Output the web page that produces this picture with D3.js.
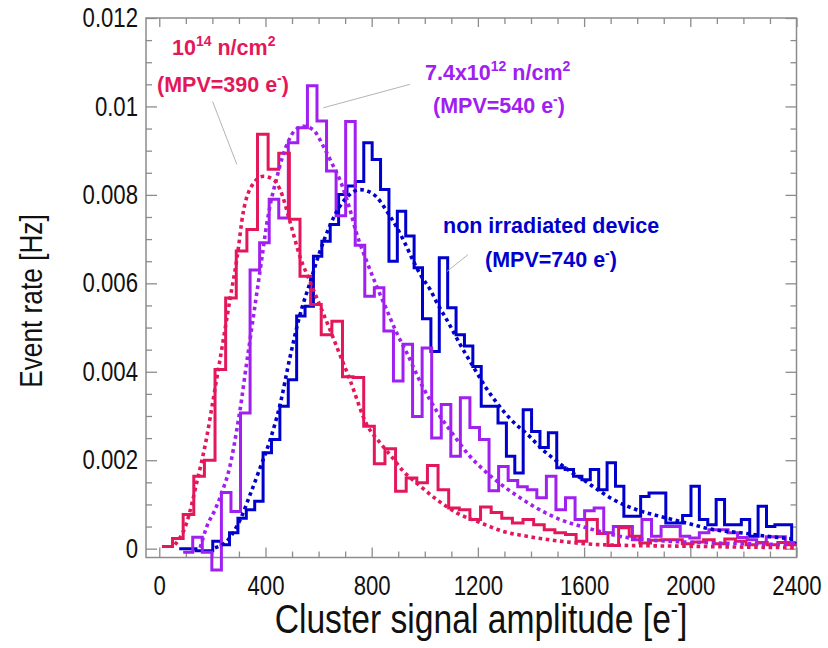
<!DOCTYPE html>
<html><head><meta charset="utf-8">
<script src="https://cdn.jsdelivr.net/npm/d3@7"></script>
<style>body{margin:0;background:#fff}</style>
</head><body>
<svg id="chart" width="828" height="648"></svg>
<script>
// ---------- DATA ----------
const xMajorTicks = [0, 400, 800, 1200, 1600, 2000, 2400];
const xMinorTicks = d3.range(0, 2401, 100);
const yMajorTicks = [0, 0.002, 0.004, 0.006, 0.008, 0.01, 0.012];
const yTickLabels = ["0", "0.002", "0.004", "0.006", "0.008", "0.01", "0.012"];
const yMinorTicks = d3.range(0, 0.01201, 0.0005);

// 10^14 n/cm^2 histogram (bin start, bin width in e-)
const redStart = 10, redWidth = 40;
const redValues = [0.00005,0.00023,0.00077,0.00164,0.00200,0.00405,0.00567,0.00673,0.00722,0.00937,
 0.00858,0.00894,0.00745,0.00616,0.00552,0.00484,0.00514,0.00389,0.00387,0.00277,
 0.00192,0.00226,0.00130,0.00160,0.00149,0.00188,0.00133,0.00092,0.00088,0.00066,
 0.00094,0.00082,0.00069,0.00058,0.00066,0.00054,0.00043,0.00036,0.00032,0.00017,
 0.00066,0.00034,0.00007,0.00047,0.00028,0.00013,0.00019,0.00020,0.00020,0.00011,
 0.00015,0.00020,0.00011,0.00022,0.00017,0.00009,0.00014,0.00009,0.00014,0.00009];

// 7.4x10^12 n/cm^2 histogram
const purpleStart = 90, purpleWidth = 36;
const purpleValues = [-0.00008,0.00026,-0.00008,-0.00048,0.00127,0.00084,0.00307,0.00630,0.00692,0.00790,
 0.00748,0.00918,0.00952,0.01047,0.00967,0.00854,0.00753,0.00966,0.00686,0.00571,
 0.00590,0.00492,0.00379,0.00462,0.00299,0.00454,0.00250,0.00326,0.00209,0.00341,
 0.00274,0.00247,0.00131,0.00186,0.00154,0.00140,0.00133,0.00115,0.00164,0.00088,
 0.00115,0.00066,0.00086,0.00092,0.00036,0.00050,0.00050,0.00020,0.00066,0.00028,
 0.00050,0.00050,0.00028,0.00024,0.00036,0.00043,0.00043,0.00036,0.00025,0.00020,
 0.00013,0.00027,0.00027,0.00014];

// non irradiated device histogram
const blueStart = 75, blueWidth = 31.6;
const blueValues = [0,0,-0.00005,-0.00005,0.00017,0.00009,0.00036,0.00069,0.00088,0.00107,
 0.00217,0.00247,0.00322,0.00382,0.00526,0.00548,0.00661,0.00695,0.00733,0.00801,
 0.00820,0.00830,0.00918,0.00880,0.00812,0.00650,0.00763,0.00707,0.00635,0.00520,
 0.00446,0.00658,0.00545,0.00484,0.00458,0.00412,0.00322,0.00322,0.00284,0.00209,
 0.00171,0.00314,0.00265,0.00229,0.00262,0.00183,0.00179,0.00164,0.00156,0.00179,
 0.00133,0.00194,0.00141,0.00073,0.00073,0.00118,0.00126,0.00126,0.00058,0.00058,
 0.00075,0.00141,0.00066,0.00054,0.00111,0.00054,0.00054,0.00066,0.00028,0.00096,
 0.00050,0.00054,0.00054,0.00013];

// fitted curves (dotted)
const redFitX = [59,103,141,179,203,240,266,292,316,348,392,429,455,492,530,567,605,643,680,718,781,831,875,919,976,1045,1120,1208,1296,1384,1509,1660,2036,2400];
const redFitY = [0.00009,0.00058,0.00149,0.00253,0.00337,0.00468,0.00563,0.00654,0.0076,0.0082,0.00842,0.00835,0.00812,0.0074,0.0066,0.00605,0.0055,0.00495,0.00439,0.00382,0.00281,0.0024,0.00208,0.00175,0.00145,0.00111,0.00081,0.00059,0.00039,0.00028,0.00017,0.00009,0.00005,0.00002];

const purpleFitX = [154,179,210,235,266,292,310,323,342,360,386,405,423,442,461,486,511,542,580,618,649,687,718,743,781,819,856,894,932,988,1045,1107,1170,1220,1308,1359,1409,1509,1610,1773,1911,2087,2388];
const purpleFitY = [0.00002,0.0005,0.00088,0.00126,0.00186,0.00269,0.00337,0.00394,0.00473,0.00548,0.00655,0.00735,0.00792,0.00837,0.0088,0.00921,0.00946,0.00955,0.00947,0.0091,0.00873,0.00824,0.00767,0.00713,0.0065,0.00593,0.00541,0.00488,0.00443,0.00371,0.00311,0.00258,0.00209,0.00179,0.00136,0.00115,0.00096,0.00066,0.00047,0.00024,0.00017,0.00013,0.00009];

const blueFitX = [210,259,305,342,380,418,455,492,530,568,605,643,680,718,756,787,819,856,894,925,957,988,1020,1045,1089,1133,1189,1227,1271,1321,1396,1440,1484,1547,1597,1635,1710,1798,1886,1986,2087,2187,2288,2388];
const blueFitY = [0.00002,0.0002,0.00066,0.00122,0.00183,0.00247,0.00326,0.00432,0.00529,0.00602,0.00672,0.00731,0.00774,0.00801,0.00812,0.00808,0.00795,0.00764,0.00727,0.00691,0.0065,0.00615,0.00586,0.00557,0.00511,0.00462,0.00405,0.00367,0.0033,0.00294,0.00253,0.00226,0.00204,0.00175,0.00156,0.0014,0.00111,0.00088,0.00073,0.00058,0.00043,0.00036,0.00028,0.00022];

// annotation pointer lines (data units)
const pointers = [
  {series: "red",    from: [201, 0.01011], to: [292, 0.00869]},
  {series: "purple", from: [618, 0.00997], to: [944, 0.0105]},
  {series: "blue",   from: [1084, 0.00627], to: [1163, 0.00665]}
];

// ---------- STYLE ----------
const colors = {red: "#e3185a", purple: "#a020f0", blue: "#0000cd"};
const axisColor = "#8c8c8c";
const narrow = "'Liberation Sans Narrow','Arial Narrow','Liberation Sans',Arial,sans-serif";
const boldFont = "'Liberation Sans',Arial,sans-serif";

const svg = d3.select("#chart");
const L = 146, R = 796.5, T = 18, B = 557.5;
const x = d3.scaleLinear().domain([-50, 2400]).range([L, R]);
const y = d3.scaleLinear().domain([-0.0002, 0.012]).range([B, T]);

// detect narrow font
function measure(fam){
  const t = svg.append("text").attr("font-family", fam).attr("font-size", 100).text("Cluster signal amplitude");
  const w = t.node().getComputedTextLength(); t.remove(); return w;
}
const narrowOK = measure("'Liberation Sans Narrow','Liberation Sans'") < 0.92 * measure("'Liberation Sans'");
function condense(sel){
  if (narrowOK) return;
  sel.each(function(){
    const w = this.getComputedTextLength();
    d3.select(this).attr("textLength", w * 0.82).attr("lengthAdjust", "spacingAndGlyphs");
  });
}

// ---------- AXES ----------
function styleTicks(g){
  g.select(".domain").remove();
  g.selectAll(".tick line").attr("stroke", axisColor).attr("stroke-width", 1.3);
}
const isMajorX = v => xMajorTicks.includes(v);
// bottom
svg.append("g").attr("transform", `translate(0,${B})`)
  .call(d3.axisBottom(x).tickValues(xMinorTicks.filter(v => !isMajorX(v))).tickSize(-6).tickFormat(""))
  .call(styleTicks);
const xAxisG = svg.append("g").attr("transform", `translate(0,${B})`)
  .call(d3.axisBottom(x).tickValues(xMajorTicks).tickSize(-10).tickPadding(18).tickFormat(d3.format("d")))
  .call(styleTicks);
xAxisG.selectAll("text").attr("font-family", narrow).attr("font-size", 27).attr("fill", "#111");
// top
svg.append("g").attr("transform", `translate(0,${T})`)
  .call(d3.axisTop(x).tickValues(xMinorTicks.filter(v => !isMajorX(v))).tickSize(-6).tickFormat(""))
  .call(styleTicks);
svg.append("g").attr("transform", `translate(0,${T})`)
  .call(d3.axisTop(x).tickValues(xMajorTicks).tickSize(-9).tickFormat(""))
  .call(styleTicks);
// left
const isMajorY = v => yMajorTicks.some(m => Math.abs(m - v) < 1e-9);
svg.append("g").attr("transform", `translate(${L},0)`)
  .call(d3.axisLeft(y).tickValues(yMinorTicks.filter(v => !isMajorY(v))).tickSize(-6).tickFormat(""))
  .call(styleTicks);
const yAxisG = svg.append("g").attr("transform", `translate(${L},0)`)
  .call(d3.axisLeft(y).tickValues(yMajorTicks).tickSize(-11).tickPadding(8)
    .tickFormat((d, i) => yTickLabels[i]))
  .call(styleTicks);
yAxisG.selectAll("text").attr("font-family", narrow).attr("font-size", 27).attr("fill", "#111");
// right
svg.append("g").attr("transform", `translate(${R},0)`)
  .call(d3.axisRight(y).tickValues(yMinorTicks.filter(v => !isMajorY(v))).tickSize(-6).tickFormat(""))
  .call(styleTicks);
svg.append("g").attr("transform", `translate(${R},0)`)
  .call(d3.axisRight(y).tickValues(yMajorTicks).tickSize(-11).tickFormat(""))
  .call(styleTicks);

// frame
svg.append("rect").attr("x", L).attr("y", T).attr("width", R - L).attr("height", B - T)
  .attr("fill", "none").attr("stroke", axisColor).attr("stroke-width", 1.5);

// ---------- HISTOGRAMS ----------
function histPoints(start, width, values){
  const pts = values.map((v, i) => [start + i * width, v]);
  pts.push([start + values.length * width, values[values.length - 1]]);
  return pts;
}
const stepLine = d3.line().x(d => x(Math.min(d[0], 2400))).y(d => y(d[1])).curve(d3.curveStepAfter);
const fitLine = d3.line().x(d => x(d[0])).y(d => y(d[1])).curve(d3.curveMonotoneX);

const series = [
  {key: "blue", start: blueStart, width: blueWidth, values: blueValues, fx: blueFitX, fy: blueFitY},
  {key: "purple", start: purpleStart, width: purpleWidth, values: purpleValues, fx: purpleFitX, fy: purpleFitY},
  {key: "red", start: redStart, width: redWidth, values: redValues, fx: redFitX, fy: redFitY}
];
series.forEach(s => {
  svg.append("path").attr("d", stepLine(histPoints(s.start, s.width, s.values)))
    .attr("fill", "none").attr("stroke", colors[s.key]).attr("stroke-width", 3)
    .attr("stroke-linejoin", "miter");
});
series.forEach(s => {
  svg.append("path").attr("d", fitLine(s.fx.map((v, i) => [v, s.fy[i]])))
    .attr("fill", "none").attr("stroke", colors[s.key]).attr("stroke-width", 3.6)
    .attr("stroke-dasharray", "3.6,3.6");
});

// pointer lines
pointers.forEach(p => {
  svg.append("line").attr("x1", x(p.from[0])).attr("y1", y(p.from[1]))
    .attr("x2", x(p.to[0])).attr("y2", y(p.to[1]))
    .attr("stroke", "#b4b4b4").attr("stroke-width", 1);
});

// ---------- LABELS ----------
function label(xp, yp, color, parts){
  const t = svg.append("text").attr("x", xp).attr("y", yp).attr("fill", color)
    .attr("font-family", boldFont).attr("font-weight", "bold").attr("font-size", 21.5);
  let shift = 0;
  parts.forEach(p => {
    const sup = p.sup === true;
    const dy = (sup ? -9 : 0) - shift;
    shift = sup ? -9 : 0;
    t.append("tspan").attr("dy", dy).attr("font-size", sup ? 14 : 21.5).text(p.t);
  });
  return t;
}
label(172, 55, colors.red, [{t: "10"}, {t: "14", sup: true}, {t: " n/cm"}, {t: "2", sup: true}]);
label(157, 92, colors.red, [{t: "(MPV=390 e"}, {t: "-", sup: true}, {t: ")"}]);
label(425, 80, colors.purple, [{t: "7.4x10"}, {t: "12", sup: true}, {t: " n/cm"}, {t: "2", sup: true}]);
label(433, 113, colors.purple, [{t: "(MPV=540 e"}, {t: "-", sup: true}, {t: ")"}]);
label(443, 233, colors.blue, [{t: "non irradiated device"}]);
label(485, 267, colors.blue, [{t: "(MPV=740 e"}, {t: "-", sup: true}, {t: ")"}]);

// axis titles
const yTitle = svg.append("text").attr("transform", "translate(42,301) rotate(-90)")
  .attr("text-anchor", "middle").attr("font-family", narrow).attr("font-size", 32).attr("fill", "#111")
  .text("Event rate [Hz]");
const xTitle = svg.append("text").attr("x", 481).attr("y", 633)
  .attr("text-anchor", "middle").attr("font-family", narrow).attr("font-size", 41).attr("fill", "#111");
xTitle.append("tspan").text("Cluster signal amplitude [e");
xTitle.append("tspan").attr("dy", -15).attr("font-size", 26).text("-");
xTitle.append("tspan").attr("dy", 15).text("]");

condense(xAxisG.selectAll("text"));
condense(yAxisG.selectAll("text"));
condense(yTitle);
condense(xTitle);
</script>
</body></html>
